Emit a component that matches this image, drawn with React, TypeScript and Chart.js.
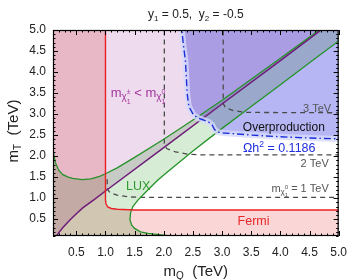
import React, { useEffect, useRef } from "react";
import { Chart, registerables } from "chart.js";

Chart.register(...registerables);

const FONT = '"Liberation Sans", Arial, Helvetica, sans-serif';

type P = [number, number];

// axis ranges and tick labels
const X_RANGE: P = [0.1, 5.0];
const Y_RANGE: P = [0.1, 5.0];
const xTickLabels = [0.5, 1.0, 1.5, 2.0, 2.5, 3.0, 3.5, 4.0, 4.5, 5.0];
const yTickLabels = [0.5, 1.0, 1.5, 2.0, 2.5, 3.0, 3.5, 4.0, 4.5, 5.0];

// m_chi+ = m_chi0 boundary (purple)
const purpleLine: P[] = [
  [0.15, 0.08], [0.2, 0.18], [0.27, 0.3], [0.39, 0.48], [0.5, 0.63], [0.61, 0.77],
  [0.8, 0.96], [1.0, 1.17], [2.0, 2.2], [3.0, 3.24], [4.0, 4.27], [4.7, 5.0], [4.9, 5.2],
];

// LUX exclusion contour: upper and lower branches (green)
const luxUpper: P[] = [
  [0.08, 2.35], [0.1, 2.13], [0.14, 1.85], [0.2, 1.66], [0.27, 1.56], [0.36, 1.5],
  [0.44, 1.47], [0.6, 1.44], [0.75, 1.46], [0.9, 1.52], [1.0, 1.58], [1.2, 1.72],
  [1.5, 1.97], [2.0, 2.4], [2.5, 2.86], [3.0, 3.33], [3.5, 3.83], [4.0, 4.33],
  [4.5, 4.83], [4.68, 5.02], [4.85, 5.2],
];
const luxLower: P[] = [
  [5.2, 4.95], [5.0, 4.74], [4.5, 4.22], [4.0, 3.7], [3.5, 3.18], [3.0, 2.66],
  [2.5, 2.12], [2.0, 1.55], [1.9, 1.43], [1.73, 1.2], [1.56, 0.96], [1.47, 0.8],
  [1.43, 0.65], [1.42, 0.48], [1.45, 0.36], [1.5, 0.28], [1.6, 0.2], [1.73, 0.16],
  [2.0, 0.12], [2.3, 0.07],
];

// Fermi exclusion boundary (red)
const fermiLine: P[] = [
  [1.0, 5.2], [1.0, 0.96], [1.01, 0.86], [1.04, 0.79], [1.1, 0.755], [1.2, 0.735],
  [1.5, 0.72], [5.2, 0.72],
];

// relic density contour Omega h^2 = 0.1186 (blue dash-dot)
const omegaLine: P[] = [
  [2.3, 5.2], [2.31, 5.0], [2.34, 4.6], [2.37, 4.29], [2.39, 3.8], [2.4, 3.5],
  [2.43, 3.18], [2.51, 2.98], [2.6, 2.9], [2.68, 2.86], [2.77, 2.81], [2.83, 2.74],
  [2.87, 2.63], [2.93, 2.57], [3.02, 2.55], [3.13, 2.54], [3.5, 2.5], [4.0, 2.46],
  [4.5, 2.43], [5.0, 2.41], [5.2, 2.4],
];

// m_chi0 contours (grey dashed)
const contour1TeV: P[] = [
  [1.03, 1.45], [1.03, 1.22], [1.08, 1.13], [1.2, 1.07], [1.4, 1.03], [1.6, 1.02], [5.2, 1.02],
];
const contour2TeV: P[] = [
  [2.01, 5.2], [2.01, 2.3], [2.05, 2.18], [2.2, 2.1], [2.4, 2.05], [2.6, 2.03], [5.2, 2.03],
];
const contour3TeV: P[] = [
  [3.02, 5.2], [3.02, 3.25], [3.06, 3.15], [3.2, 3.08], [3.4, 3.04], [5.2, 3.03],
];

// region polygons built from the boundaries
const lavenderRegion: P[] = [...purpleLine, [0.0, 5.2], [0.0, 0.08]];
const luxRegion: P[] = [...luxUpper, ...luxLower, [2.3, -0.1], [0.0, -0.1], [0.0, 2.35]];
const fermiRegion: P[] = [[0.0, 5.2], ...fermiLine, [5.2, -0.1], [0.0, -0.1]];
const overRegion: P[] = [...omegaLine, [5.2, 5.2]];

const mk = (pts: P[]) => pts.map(([x, y]) => ({ x, y }));

type Run = { t: string; size: number; dy?: number; noAdvance?: boolean };

function drawRuns(
  ctx: CanvasRenderingContext2D,
  runs: Run[],
  x: number,
  y: number,
  align: "left" | "center" | "right",
  color: string
) {
  let w = 0;
  for (const r of runs) {
    ctx.font = `${r.size}px ${FONT}`;
    if (!r.noAdvance) w += ctx.measureText(r.t).width;
  }
  let cx = align === "left" ? x : align === "center" ? x - w / 2 : x - w;
  ctx.fillStyle = color;
  ctx.textAlign = "left";
  ctx.textBaseline = "alphabetic";
  for (const r of runs) {
    ctx.font = `${r.size}px ${FONT}`;
    ctx.fillText(r.t, cx, y + (r.dy || 0));
    if (!r.noAdvance) cx += ctx.measureText(r.t).width;
  }
}

const decorPlugin = {
  id: "decor",
  beforeDatasetsDraw(chart: any) {
    chart.ctx.save();
    chart.ctx.globalCompositeOperation = "multiply";
  },
  beforeDatasetDraw(chart: any, args: any) {
    const ds = chart.data.datasets[args.index];
    if (ds.stroke) chart.ctx.globalCompositeOperation = "source-over";
  },
  afterDatasetDraw(chart: any) {
    chart.ctx.globalCompositeOperation = "multiply";
  },
  afterDatasetsDraw(chart: any) {
    chart.ctx.restore();
  },
  afterDraw(chart: any) {
    const ctx: CanvasRenderingContext2D = chart.ctx;
    const { left, right, top, bottom } = chart.chartArea;
    const xs = chart.scales.x;
    const ys = chart.scales.y;
    const px = (v: number) => xs.getPixelForValue(v);
    const py = (v: number) => ys.getPixelForValue(v);
    ctx.save();
    // frame
    ctx.strokeStyle = "#000";
    ctx.lineWidth = 1.2;
    ctx.strokeRect(left + 0.5, top + 0.5, right - left - 1, bottom - top - 1);
    // inward ticks every 0.1, major every 0.5
    ctx.lineWidth = 1;
    ctx.beginPath();
    for (let i = 1; i <= 50; i++) {
      const v = i / 10;
      const len = i % 5 === 0 ? 5 : 2.5;
      const x = Math.round(px(v)) + 0.5;
      ctx.moveTo(x, bottom);
      ctx.lineTo(x, bottom - len);
      ctx.moveTo(x, top);
      ctx.lineTo(x, top + len);
      const y = Math.round(py(v)) + 0.5;
      ctx.moveTo(left, y);
      ctx.lineTo(left + len, y);
      ctx.moveTo(right, y);
      ctx.lineTo(right - len, y);
    }
    ctx.stroke();

    const cxMid = (left + right) / 2;
    // title
    drawRuns(
      ctx,
      [
        { t: "y", size: 12 },
        { t: "1", size: 8, dy: 3 },
        { t: " = 0.5,  y", size: 12 },
        { t: "2", size: 8, dy: 3 },
        { t: " = -0.5", size: 12 },
      ],
      cxMid,
      18,
      "center",
      "#222"
    );
    // x title
    drawRuns(
      ctx,
      [
        { t: "m", size: 15 },
        { t: "Q", size: 10, dy: 3 },
        { t: "  (TeV)", size: 15 },
      ],
      cxMid,
      276,
      "center",
      "#222"
    );
    // y title
    ctx.save();
    ctx.translate(13, (top + bottom) / 2 - 2);
    ctx.rotate(-Math.PI / 2);
    drawRuns(
      ctx,
      [
        { t: "m", size: 15 },
        { t: "T", size: 10, dy: 3 },
        { t: "  (TeV)", size: 15 },
      ],
      0,
      5,
      "center",
      "#222"
    );
    ctx.restore();

    // annotations
    drawRuns(
      ctx,
      [
        { t: "m", size: 13 },
        { t: "χ", size: 10, dy: 3 },
        { t: "±", size: 7, dy: -3, noAdvance: true },
        { t: "1", size: 7, dy: 7 },
        { t: " < m", size: 13 },
        { t: "χ", size: 10, dy: 3 },
        { t: "0", size: 7, dy: -3, noAdvance: true },
        { t: "1", size: 7, dy: 7 },
      ],
      px(1.09),
      py(3.41),
      "left",
      "#a2359c"
    );
    drawRuns(ctx, [{ t: "LUX", size: 12.5 }], px(1.56), py(1.31) + 4.5, "center", "#2e9a2e");
    drawRuns(ctx, [{ t: "Overproduction", size: 12 }], px(4.06), py(2.7) + 4.5, "center", "#111");
    drawRuns(
      ctx,
      [
        { t: "Ωh", size: 12.5 },
        { t: "2", size: 8.5, dy: -5 },
        { t: " = 0.1186", size: 12.5 },
      ],
      px(3.98),
      py(2.2) + 4.5,
      "center",
      "#1f2fe0"
    );
    drawRuns(ctx, [{ t: "3 TeV", size: 11 }], px(4.87), py(3.15) + 4, "right", "#555");
    drawRuns(ctx, [{ t: "2 TeV", size: 11 }], px(4.83), py(1.84) + 4, "right", "#555");
    drawRuns(
      ctx,
      [
        { t: "m", size: 11 },
        { t: "χ", size: 8, dy: 2 },
        { t: "0", size: 6, dy: -3, noAdvance: true },
        { t: "1", size: 6, dy: 5 },
        { t: " = 1 TeV", size: 11 },
      ],
      px(4.83),
      py(1.24) + 4,
      "right",
      "#555"
    );
    drawRuns(ctx, [{ t: "Fermi", size: 12.5 }], px(3.54), py(0.46) + 4.5, "center", "#e8262a");
    ctx.restore();
  },
};

const strokeDs = (pts: P[], color: string, width: number, dash: number[] = []) => ({
  data: mk(pts),
  borderColor: color,
  borderWidth: width,
  borderDash: dash,
  backgroundColor: "rgba(0,0,0,0)",
  fill: false,
  pointRadius: 0,
  stroke: true,
});

const fillDs = (pts: P[], color: string) => ({
  data: mk(pts),
  borderColor: "rgba(0,0,0,0)",
  borderWidth: 0,
  backgroundColor: color,
  fill: "shape",
  pointRadius: 0,
});

export default function App() {
  const ref = useRef<HTMLCanvasElement>(null);
  useEffect(() => {
    const canvas = ref.current;
    if (!canvas) return;
    const chart = new Chart(canvas, {
      type: "line",
      data: {
        datasets: [
          // strokes (index 0 drawn last / on top)
          strokeDs(omegaLine, "#1d2fd8", 1.4, [7, 3, 1.5, 3]),
          strokeDs(omegaLine, "rgba(214,218,252,0.8)", 6),
          strokeDs(fermiLine, "#ea2025", 1.4),
          strokeDs(purpleLine, "#6e1c78", 1.5),
          strokeDs(luxUpper, "#26922a", 1.3),
          strokeDs(luxLower, "#26922a", 1.3),
          strokeDs(contour1TeV, "#4a4a4a", 1.3, [5, 4]),
          strokeDs(contour2TeV, "#4a4a4a", 1.3, [5, 4]),
          strokeDs(contour3TeV, "#4a4a4a", 1.3, [5, 4]),
          // fills (multiplied together)
          fillDs(overRegion, "#b6b6f5"),
          fillDs(luxRegion, "#d6ecd4"),
          fillDs(fermiRegion, "#fad6d6"),
          fillDs(lavenderRegion, "#eedcee"),
        ] as any,
      },
      options: {
        responsive: false,
        animation: false,
        devicePixelRatio: 1,
        layout: { padding: { left: 0, right: 11, top: 30, bottom: 0 } },
        elements: { line: { tension: 0, capBezierPoints: false } },
        plugins: {
          legend: { display: false },
          tooltip: { enabled: false },
          title: { display: false },
        },
        events: [],
        scales: {
          x: {
            type: "linear",
            min: X_RANGE[0],
            max: X_RANGE[1],
            grid: { display: false, drawTicks: false },
            border: { display: false },
            afterBuildTicks: (s: any) => {
              s.ticks = xTickLabels.map((v) => ({ value: v }));
            },
            afterFit: (s: any) => {
              s.height = 44;
            },
            ticks: {
              padding: 9,
              autoSkip: false,
              maxRotation: 0,
              color: "#222",
              font: { family: FONT, size: 12 },
              callback: (v: any) => Number(v).toFixed(1),
            },
          },
          y: {
            type: "linear",
            min: Y_RANGE[0],
            max: Y_RANGE[1],
            grid: { display: false, drawTicks: false },
            border: { display: false },
            afterBuildTicks: (s: any) => {
              s.ticks = yTickLabels.map((v) => ({ value: v }));
            },
            afterFit: (s: any) => {
              s.width = 53;
            },
            ticks: {
              padding: 7,
              autoSkip: false,
              color: "#222",
              font: { family: FONT, size: 12 },
              callback: (v: any) => Number(v).toFixed(1),
            },
          },
        },
      } as any,
      plugins: [decorPlugin as any],
    });
    return () => chart.destroy();
  }, []);
  return (
    <div style={{ position: "absolute", left: 0, top: 0, width: 356, height: 280, background: "#fff" }}>
      <canvas ref={ref} width={356} height={280} style={{ display: "block", width: 356, height: 280 }} />
    </div>
  );
}
